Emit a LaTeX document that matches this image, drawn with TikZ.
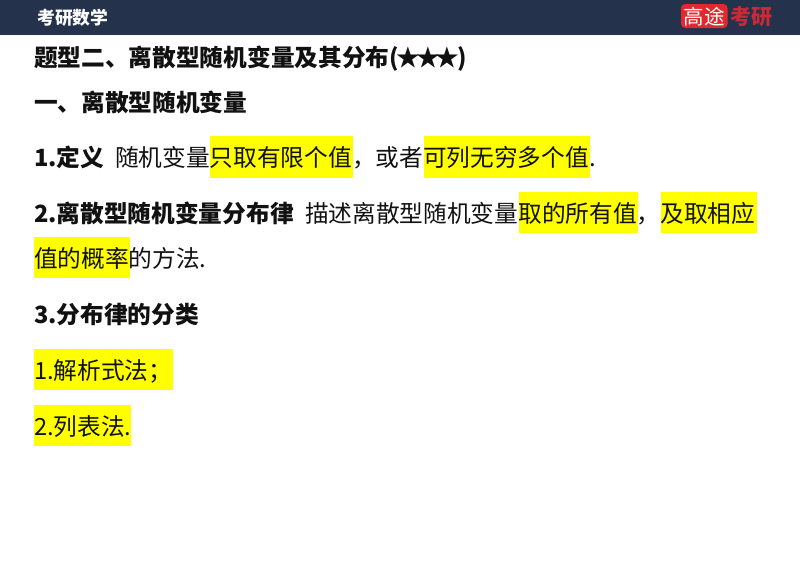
\documentclass[tikz,border=0pt]{standalone}
\usepackage{fontspec}
\setmainfont{Noto Sans CJK SC}
\definecolor{barblue}{HTML}{25324C}
\definecolor{hl}{HTML}{FFFF00}
\definecolor{logored}{HTML}{E0282E}
\definecolor{logodark}{HTML}{C92A33}
\definecolor{ink}{HTML}{111111}
\tikzset{
  txt/.style={anchor=base west,inner sep=0pt,outer sep=0pt,text=ink,font=\fontsize{23.7}{28}\selectfont},
  btxt/.style={txt,font=\fontsize{23.7}{28}\selectfont\bfseries},
  mark box/.style={fill=hl,draw=none}
}
\newcommand{\starrun}{\kern-2pt ★\kern-4.3pt ★\kern-4.3pt ★\kern-2pt}
\begin{document}
\begin{tikzpicture}[x=1pt,y=-1pt]
\useasboundingbox (0,0) rectangle (800,566);
\fill[white] (0,0) rectangle (800,566);
\fill[barblue] (0,0) rectangle (800,34.5);
\node[anchor=base west,inner sep=0pt,text=white,font=\fontsize{17.8}{20}\selectfont\bfseries] (brand) at (37,24) {考研数学};
\fill[logored,rounded corners=4pt] (681,4) rectangle (727.5,28);
\node[anchor=base west,inner sep=0pt,text=white,font=\fontsize{20.5}{22}\selectfont] (logoa) at (683.5,24) {高途};
\node[anchor=base west,inner sep=0pt,text=logodark,font=\fontsize{21}{22}\selectfont\bfseries] (logob) at (730.5,24) {考研};
\fill[mark box] (210,136) rectangle (352.5,177.5);
\fill[mark box] (424,136) rectangle (590,177.5);
\fill[mark box] (519,192) rectangle (638,233);
\fill[mark box] (661,192) rectangle (757,233);
\fill[mark box] (34,237) rectangle (129.5,278);
\fill[mark box] (34,349) rectangle (173,389.5);
\fill[mark box] (34,405) rectangle (131,445.5);
\node[btxt] (t1) at (34,66) {题型二、离散型随机变量及其分布(\starrun)};
\node[btxt] (t2) at (34,111) {一、离散型随机变量};
\node[btxt] (a1) at (34,166.5) {1.定义};
\node[txt] (a2) at (115,166.5) {随机变量只取有限个值，或者可列无穷多个值.};
\node[btxt] (b1) at (34,222.5) {2.离散型随机变量分布律};
\node[txt] (b2) at (305,222.5) {描述离散型随机变量取的所有值，及取相应};
\node[txt] (b3) at (34,267) {值的概率的方法.};
\node[btxt] (c) at (34,323) {3.分布律的分类};
\node[txt] (d1) at (34,379) {1.解析式法；};
\node[txt] (d2) at (34,435) {2.列表法.};
\end{tikzpicture}
\end{document}
